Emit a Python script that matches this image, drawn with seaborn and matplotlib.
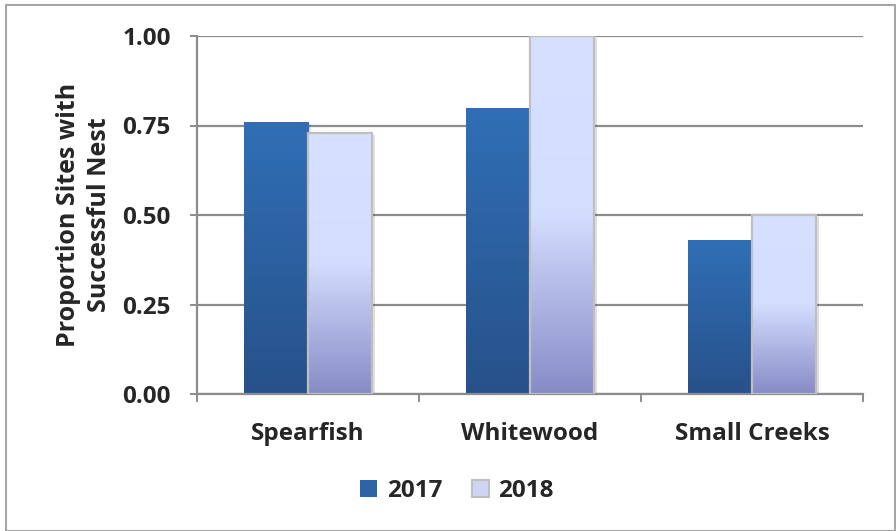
import numpy as np
import pandas as pd
import matplotlib
matplotlib.use("Agg")
import matplotlib.pyplot as plt
import seaborn as sns
from matplotlib.patches import Rectangle, Patch
from matplotlib.colors import LinearSegmentedColormap

categories = ["Spearfish", "Whitewood", "Small Creeks"]
years = ["2017", "2018"]
values_2017 = [0.76, 0.80, 0.43]
values_2018 = [0.73, 1.00, 0.50]
y_ticks = [0.0, 0.25, 0.50, 0.75, 1.00]
y_label = "Proportion Sites with\nSuccessful Nest"

df = pd.DataFrame({
    "Site": categories * 2,
    "Year": [years[0]] * 3 + [years[1]] * 3,
    "Value": values_2017 + values_2018,
})

sns.set_theme(style="white")
plt.rcParams["font.family"] = ["Open Sans", "DejaVu Sans"]
plt.rcParams["font.weight"] = "bold"
FS = 17.5

fig = plt.figure(figsize=(8.96, 5.31), dpi=100)
ax = fig.add_axes([197 / 896, 1 - 394 / 531, (863 - 197) / 896, (394 - 36) / 531])

sns.barplot(data=df, x="Site", y="Value", hue="Year", order=categories,
            hue_order=years, width=0.577, gap=0, ax=ax, legend=False,
            palette=["#2d64a5", "#cdd5f5"], saturation=1)

cmap17 = LinearSegmentedColormap.from_list("c17", [(0, "#27518a"), (1, "#306fb6")])
cmap18 = LinearSegmentedColormap.from_list("c18", [(0, "#878bc6"), (0.5, "#d3ddfe"), (1, "#d6e0ff")])

patches = list(ax.patches)
for i, p in enumerate(patches):
    x0, y0 = p.get_x(), p.get_y()
    w, h = p.get_width(), p.get_height()
    cm = cmap17 if i < 3 else cmap18
    grad = np.linspace(0, 1, 256).reshape(-1, 1)
    sh = Rectangle((x0 + 0.012, y0), w, h - 0.006, facecolor="#000000", alpha=0.12,
                   edgecolor="none", zorder=2)
    ax.add_patch(sh)
    im = ax.imshow(grad, cmap=cm, origin="lower", aspect="auto",
                   extent=[x0, x0 + w, y0, y0 + h], zorder=2.5, interpolation="bilinear")
    im.set_clip_path(p)
    p.set_facecolor("none")
    p.set_zorder(3)
    if i >= 3:
        p.set_edgecolor("#bfbfbf")
        p.set_linewidth(1.6)
    else:
        p.set_edgecolor("none")

ax.set_xlim(-0.5, 2.5)
ax.set_ylim(0, 1.0)
ax.set_yticks(y_ticks)
ax.set_yticklabels([f"{v:.2f}" for v in y_ticks], fontsize=FS, fontweight="bold")
ax.yaxis.grid(True, color="#8c8c8c", linewidth=1.6)
ax.set_axisbelow(True)

ax.set_xticks([-0.5, 0.5, 1.5, 2.5])
ax.set_xticklabels([])
ax.set_xticks([0, 1, 2], minor=True)
ax.set_xticklabels(categories, minor=True, fontsize=FS, fontweight="bold")
ax.tick_params(axis="x", which="major", direction="out", length=6, width=1.4,
               color="#8c8c8c", bottom=True)
ax.tick_params(axis="x", which="minor", length=0, pad=20)
ax.tick_params(axis="y", direction="out", length=5, width=1.4, color="#8c8c8c",
               left=True, pad=14)

for s in ["top", "right"]:
    ax.spines[s].set_visible(False)
for s in ["left", "bottom"]:
    ax.spines[s].set_color("#8c8c8c")
    ax.spines[s].set_linewidth(1.6)

ax.set_xlabel("")
ax.set_ylabel(y_label, fontsize=18, fontweight="bold", linespacing=1.3)
ax.yaxis.set_label_coords(-0.128, 0.5)

handles = [Patch(facecolor="#2d64a5", edgecolor="none", label=years[0]),
           Patch(facecolor="#cdd5f5", edgecolor="#bfbfbf", linewidth=1.5, label=years[1])]
fig.legend(handles=handles, loc="center", bbox_to_anchor=(457 / 896, 1 - 491 / 531),
           ncol=2, frameon=False, prop={"size": FS, "weight": "bold"},
           handlelength=0.7, handleheight=0.7, handletextpad=0.4, columnspacing=1.2)

fig.patches.append(Rectangle((6 / 896, 0), (895 - 6) / 896, 1 - 5 / 531,
                             transform=fig.transFigure, fill=False,
                             edgecolor="#a6a6a6", linewidth=1.5))

fig.savefig("out.png", dpi=100)
